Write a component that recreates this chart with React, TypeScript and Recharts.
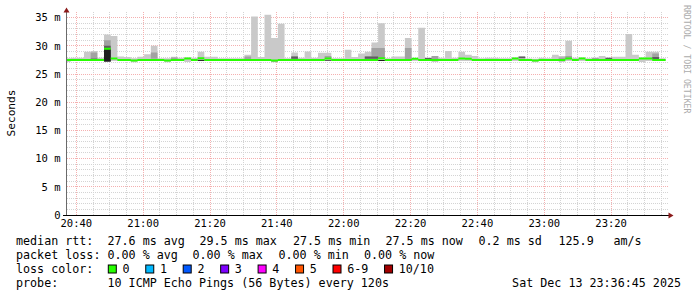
import React from "react";
import { ComposedChart, Area, XAxis, YAxis, CartesianGrid } from "recharts";

// time axis in minutes after 20:00, one rrd step = 2 minutes
const firstStep = 36.3;
const stepMinutes = 2;

const medianRtt = [
  27.5, 27.5, 27.5, 27.5, 27.5, 27.5, 29.5, 27.75, 27.5, 27.5,
  27.4, 27.5, 27.5, 27.5, 27.5, 27.4, 27.5, 27.5, 27.75, 27.5,
  27.8, 27.5, 27.5, 27.5, 27.5, 27.5, 27.5, 27.5, 27.5, 27.5,
  27.5, 27.4, 27.5, 27.5, 27.5, 27.5, 27.5, 27.5, 27.5, 27.75,
  27.5, 27.5, 27.5, 27.5, 27.5, 27.5, 27.5, 27.8, 27.5, 27.5,
  27.5, 27.5, 27.7, 27.5, 27.5, 27.5, 27.5, 27.5, 27.5, 27.75,
  27.7, 27.5, 27.5, 27.5, 27.5, 27.5, 27.5, 27.75, 27.5, 27.5,
  27.4, 27.5, 27.5, 27.5, 27.5, 27.75, 27.5, 27.75, 27.5, 27.5,
  27.5, 27.5, 27.5, 27.5, 27.5, 27.5, 27.75, 27.75, 27.5, 27.5,
];

const smokeMin = [
  27.15, 27.3, 27.3, 27.3, 27.3, 27.3, 27.2, 27.3, 27.3, 27.3,
  27.1, 27.3, 27.3, 27.3, 27.3, 27.1, 27.3, 27.3, 27.15, 27.3,
  27.3, 27.3, 27.3, 27.3, 27.3, 27.3, 27.3, 27.3, 27.3, 27.3,
  27.3, 27.1, 27.3, 27.3, 27.3, 27.3, 27.3, 27.3, 27.3, 27.3,
  27.3, 27.3, 27.3, 27.3, 27.3, 27.3, 27.3, 27.3, 27.3, 27.3,
  27.3, 27.3, 27.3, 27.3, 27.3, 27.15, 27.3, 27.3, 27.3, 27.3,
  27.3, 27.3, 27.3, 27.3, 27.3, 27.3, 27.3, 27.3, 27.3, 27.3,
  27.1, 27.3, 27.3, 27.3, 27.15, 27.3, 27.3, 27.3, 27.3, 27.3,
  27.3, 27.3, 27.3, 27.3, 27.3, 27.3, 27.15, 27.3, 27.3, 27.3,
];

const smokeMax = [
  27.8, 27.9, 27.9, 28.95, 29.1, 27.9, 32.0, 31.75, 28.1, 28.0,
  27.8, 28.05, 28.5, 30.0, 27.8, 27.8, 28.05, 27.9, 27.95, 27.9,
  28.95, 28.05, 28.05, 27.8, 27.8, 27.8, 27.8, 28.4, 35.2, 28.0,
  35.5, 31.4, 33.9, 27.8, 28.8, 27.9, 29.0, 27.9, 28.76, 28.76,
  27.8, 27.8, 29.3, 28.0, 28.65, 28.94, 30.6, 34.0, 27.8, 28.1,
  28.1, 31.4, 27.85, 33.2, 27.95, 28.2, 27.9, 29.1, 27.9, 28.94,
  28.4, 28.2, 27.8, 27.9, 27.9, 27.8, 27.8, 27.95, 28.1, 27.75,
  27.7, 27.9, 27.8, 28.4, 28.2, 30.9, 27.9, 27.95, 27.8, 27.95,
  28.2, 27.9, 28.05, 28.05, 32.1, 28.4, 27.95, 28.94, 28.94, 27.8,
];

// denser smoke near the median: [step, low, high]
const midSmoke = [
  [4, 27.75, 28.8], [6, 27.2, 31.0], [13, 27.7, 28.8], [16, 27.6, 27.95],
  [27, 27.6, 28.1], [34, 27.6, 28.1], [39, 27.6, 28.2], [45, 27.6, 28.1],
  [46, 27.6, 29.6], [47, 27.6, 29.6], [51, 27.6, 29.6], [55, 27.6, 28.2],
  [74, 27.6, 27.95], [75, 27.6, 28.2], [79, 27.6, 27.85], [88, 27.6, 28.65],
];
const darkSmoke = [
  [4, 27.55, 27.75], [6, 27.2, 30.0], [20, 27.3, 27.55], [31, 27.25, 27.45],
  [34, 27.7, 28.1], [39, 27.3, 27.5], [45, 27.7, 28.1], [46, 27.7, 28.1],
  [51, 27.35, 27.6], [54, 27.6, 27.85], [68, 27.8, 28.1], [81, 27.65, 27.9],
  [88, 27.65, 28.0],
];
const coreSmoke = [[6, 27.2, 29.4], [20, 27.35, 27.5], [47, 27.3, 27.5]];

const yTicks = [0, 5, 10, 15, 20, 25, 30, 35];
const xTicks = [40, 60, 80, 100, 120, 140, 160, 180, 200];

const rttLine = ["median rtt:", "27.6 ms avg", "29.5 ms max", "27.5 ms min", "27.5 ms now", "0.2 ms sd", "125.9", "am/s"];
const lossLine = ["packet loss:", "0.00 % avg", "0.00 % max", "0.00 % min", "0.00 % now"];
const lossLabels = ["0", "1", "2", "3", "4", "5", "6-9", "10/10"];
const lossColors = ["#26ff00", "#00b8ff", "#0059ff", "#7e00ff", "#ff00ff", "#ff5500", "#ff0000", "#a10000"];
const probeText = "10 ICMP Echo Pings (56 Bytes) every 120s";
const stamp = "Sat Dec 13 23:36:45 2025";

const band = (list: number[][], k: number) => {
  const hit = list.find((b) => b[0] === k);
  return hit ? [hit[1], hit[2]] : [medianRtt[k], medianRtt[k]];
};

const rows = Array.from({ length: medianRtt.length + 1 }, (_, n) => {
  const k = Math.min(n, medianRtt.length - 1);
  return {
    t: firstStep + stepMinutes * n,
    light: [smokeMin[k], smokeMax[k]],
    mid: band(midSmoke, k),
    dark: band(darkSmoke, k),
    core: band(coreSmoke, k),
    med: [medianRtt[k] - 0.18, medianRtt[k] + 0.18],
  };
});

const minorY = Array.from({ length: 35 }, (_, i) => i + 1).filter((v) => v % 5 !== 0);
const minorX = Array.from({ length: 36 }, (_, i) => 40 + i * 5).filter((v) => v % 20 !== 0 && v < 217);

const fmtTime = (m: number) => {
  const h = 20 + Math.floor(m / 60);
  const mm = m % 60;
  return `${h}:${mm < 10 ? "0" : ""}${mm}`;
};

const mono = "DejaVu Sans Mono";
const tickStyle = { fontFamily: mono, fontSize: 10.5, fill: "#000" };

const rttX = [16, 107.5, 199.5, 293, 385.5, 478.5, 558.5, 613.5];
const lossX = [16, 107.5, 192.5, 278.5, 364];

export default function App() {
  const boxes: { x: number; label: string; color: string }[] = [];
  let bx = 108.3;
  lossLabels.forEach((label, i) => {
    boxes.push({ x: bx, label, color: lossColors[i] });
    bx += 14.6 + label.length * 7.05 + 15.8;
  });

  return (
    <div style={{ position: "absolute", left: 0, top: 0, width: 697, height: 297, background: "#fff" }}>
      <ComposedChart
        width={697}
        height={297}
        data={rows}
        margin={{ top: 12, right: 28.8, bottom: 62, left: 6.5 }}
      >
        <CartesianGrid
          horizontalValues={minorY}
          verticalValues={minorX}
          stroke="#d4d4d4"
          strokeDasharray="1 1"
          shapeRendering="crispEdges"
        />
        <CartesianGrid
          horizontalValues={yTicks.filter((v) => v > 0)}
          verticalValues={xTicks}
          stroke="#f4b0b0"
          strokeDasharray="1 1"
          shapeRendering="crispEdges"
        />
        <XAxis
          dataKey="t"
          type="number"
          domain={[37.07, 217.07]}
          allowDataOverflow
          ticks={xTicks}
          tickFormatter={fmtTime}
          axisLine={false}
          tickLine={false}
          tickSize={2}
          tickMargin={3}
          height={20}
          tick={tickStyle}
          interval={0}
        />
        <YAxis
          type="number"
          domain={[0, 36]}
          allowDataOverflow
          ticks={yTicks}
          tickFormatter={(v: number) => (v === 0 ? "0" : `${v} m`)}
          axisLine={false}
          tickLine={false}
          tickSize={3}
          tickMargin={3}
          width={60}
          tick={tickStyle}
          interval={0}
        />
        <Area dataKey="light" type="stepAfter" fill="#c9c9c9" fillOpacity={1} stroke="none" dot={false} activeDot={false} isAnimationActive={false} />
        <Area dataKey="mid" type="stepAfter" fill="#a2a2a2" fillOpacity={1} stroke="none" dot={false} activeDot={false} isAnimationActive={false} />
        <Area dataKey="dark" type="stepAfter" fill="#5e5e5e" fillOpacity={1} stroke="none" dot={false} activeDot={false} isAnimationActive={false} />
        <Area dataKey="core" type="stepAfter" fill="#1e1e1e" fillOpacity={1} stroke="none" dot={false} activeDot={false} isAnimationActive={false} />
        <Area dataKey="med" type="stepAfter" fill="#26ff00" fillOpacity={1} stroke="none" dot={false} activeDot={false} isAnimationActive={false} />
      </ComposedChart>

      <svg width={697} height={297} style={{ position: "absolute", left: 0, top: 0, pointerEvents: "none" }}>
        {/* axes with rrdtool arrows */}
        <line x1={66.5} y1={215} x2={66.5} y2={12} stroke="#6a6a6a" strokeWidth={1} />
        <polygon points="63.5,12.5 69.5,12.5 66.5,7.5" fill="#8b1a1a" />
        <line x1={63} y1={215.5} x2={669} y2={215.5} stroke="#000" strokeWidth={1} />
        <polygon points="668.5,212.5 668.5,218.5 673.5,215.5" fill="#8b1a1a" />

        <text
          transform="translate(14.5,113) rotate(-90)"
          textAnchor="middle"
          fontFamily={mono}
          fontSize={11.2}
          fill="#000"
        >
          Seconds
        </text>
        <text
          transform="translate(683.5,5) rotate(90)"
          fontFamily={mono}
          fontSize={8.2}
          fill="#ababab"
        >
          RRDTOOL / TOBI OETIKER
        </text>

        <g fontFamily={mono} fontSize={11.7} fill="#000">
          {rttLine.map((s, i) => (
            <text key={"r" + i} x={rttX[i]} y={245}>{s}</text>
          ))}
          {lossLine.map((s, i) => (
            <text key={"l" + i} x={lossX[i]} y={259}>{s}</text>
          ))}
          <text x={16} y={273}>loss color:</text>
          {boxes.map((b) => (
            <g key={b.label}>
              <rect x={b.x} y={265} width={8} height={8} fill={b.color} stroke="#000" strokeWidth={1} />
              <text x={b.x + 14.2} y={273}>{b.label}</text>
            </g>
          ))}
          <text x={16} y={287}>probe:</text>
          <text x={107.5} y={287}>{probeText}</text>
          <text x={681} y={287} textAnchor="end">{stamp}</text>
        </g>
      </svg>
    </div>
  );
}
